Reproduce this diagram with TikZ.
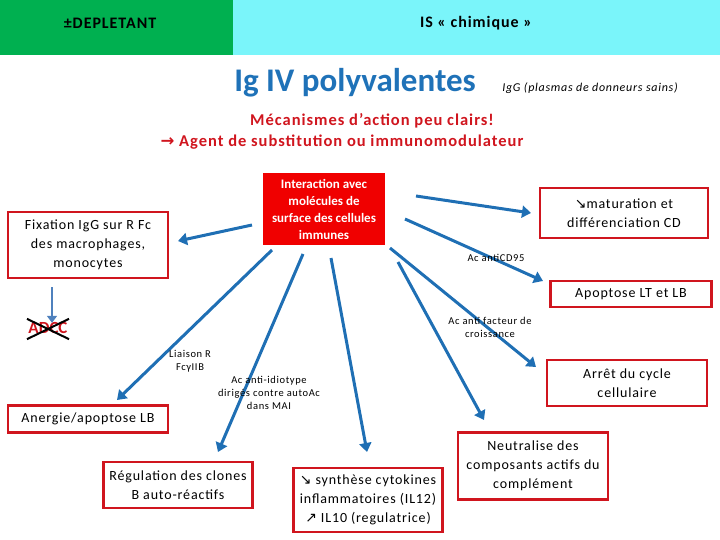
\documentclass[tikz,border=0pt]{standalone}
\usepackage{fontspec}
\setmainfont{Carlito}[LetterSpace=6]
\newfontfamily\tight{Carlito}
\newfontfamily\dv{DejaVu Sans}
\usetikzlibrary{arrows.meta}
\definecolor{arr}{HTML}{1F6FB4}
\definecolor{bred}{HTML}{D0151E}
\definecolor{tblue}{HTML}{1F72B8}
\begin{document}
\begin{tikzpicture}[x=1pt,y=-1pt,
  box/.style={draw=bred,line width=2.2pt,fill=white,align=center,font=\fontsize{14}{19}\selectfont,inner sep=0pt},
  conn/.style={draw=arr,line width=3pt,-{Triangle[length=9pt,width=12pt]}},
  lbl/.style={align=center,font=\fontsize{10.5}{13}\selectfont}]
\useasboundingbox (0,0) rectangle (720,540);
\fill[fill={rgb,255:red,0;green,176;blue,80}] (0,0) rectangle (233,55);
\fill[fill={rgb,255:red,122;green,245;blue,250}] (233,0) rectangle (720,55);
\node[font=\bfseries\fontsize{16}{18}\selectfont] (dep) at (110,23) {±DEPLETANT};
\node[font=\bfseries\fontsize{16}{18}\selectfont] (is) at (476,23) {IS « chimique »};
\node[font=\tight\bfseries\fontsize{33}{36}\selectfont,text=tblue] (title) at (355,83) {Ig IV polyvalentes};
\node[font=\itshape\fontsize{12}{14}\selectfont] (igg) at (590,88) {IgG (plasmas de donneurs sains)};
\node[font=\bfseries\fontsize{16.5}{18}\selectfont,text=bred] (mec) at (372,121) {Mécanismes d’action peu clairs!};
\node[font=\bfseries\fontsize{16.5}{18}\selectfont,text=bred] (agent) at (342,142) {{\dv\bfseries →} Agent de substitution ou immunomodulateur};

\node[fill={rgb,255:red,240;green,0;blue,0},text=white,font=\tight\bfseries\fontsize{13}{17}\selectfont,align=center,minimum width=122pt,minimum height=72pt,inner sep=0pt] (int) at (324,209) {Interaction avec\\molécules de\\surface des cellules\\immunes};
\node[box,minimum width=160pt,minimum height=66pt] (fix) at (88,245) {Fixation IgG sur R Fc\\des macrophages,\\monocytes};
\node[box,minimum width=168pt,minimum height=50pt] (mat) at (624,213) {{\dv ↘}maturation et\\différenciation CD};
\node[box,minimum width=161pt,minimum height=26pt] (apo) at (631,294) {Apoptose LT et LB};
\node[box,minimum width=160pt,minimum height=46pt] (arr) at (627,383) {Arrêt du cycle\\cellulaire};
\node[box,minimum width=160pt,minimum height=27pt] (ane) at (88,419) {Anergie/apoptose LB};
\node[box,minimum width=149pt,minimum height=46pt] (reg) at (178,485) {Régulation des clones\\B auto-réactifs};
\node[box,minimum width=149pt,minimum height=64pt] (syn) at (368,500) {{\dv ↘} synthèse cytokines\\inflammatoires (IL12)\\{\dv ↗} IL10 (regulatrice)};
\node[box,minimum width=150pt,minimum height=67pt] (neu) at (533,466) {Neutralise des\\composants actifs du\\complément};

\node[text=bred,font=\tight\bfseries\fontsize{17}{19}\selectfont] (adcc) at (48,328) {ADCC};
\draw[line width=2pt] ([shift={(2,0)}]adcc.north west) -- ([shift={(-2,2)}]adcc.south east);
\draw[line width=2pt] ([shift={(2,2)}]adcc.south west) -- ([shift={(-2,0)}]adcc.north east);
\coordinate (a0) at (52,287);
\draw[draw={rgb,255:red,79;green,129;blue,189},line width=2.5pt,-{Triangle[length=7pt,width=10pt]}] (a0) -- ([yshift=-4pt]adcc.north -| a0);

\coordinate (s1) at (252,225);
\coordinate (s2) at (416,196);
\coordinate (s3) at (405,219);
\coordinate (s4) at (390,248);
\coordinate (s5) at (398,262);
\coordinate (s6) at (272,250);
\coordinate (s7) at (303,254);
\coordinate (s8) at (331,258);
\draw[conn] (s1) -- (178,241);
\draw[conn] (s2) -- (531,213);
\draw[conn] (s3) -- (543,281);
\draw[conn] (s4) -- (536,367);
\draw[conn] (s5) -- (484,420);
\draw[conn] (s6) -- (117,400);
\draw[conn] (s7) -- (218,452);
\draw[conn] (s8) -- (367,452);

\node[lbl] (l1) at (190,361) {Liaison R\\FcγIIB};
\node[lbl] (l2) at (269,393) {Ac anti-idiotype\\dirigés contre autoAc\\dans MAI};
\node[lbl] (l3) at (496,258) {Ac antiCD95};
\node[lbl] (l4) at (490,327) {Ac anti facteur de\\croissance};
\end{tikzpicture}
\end{document}
